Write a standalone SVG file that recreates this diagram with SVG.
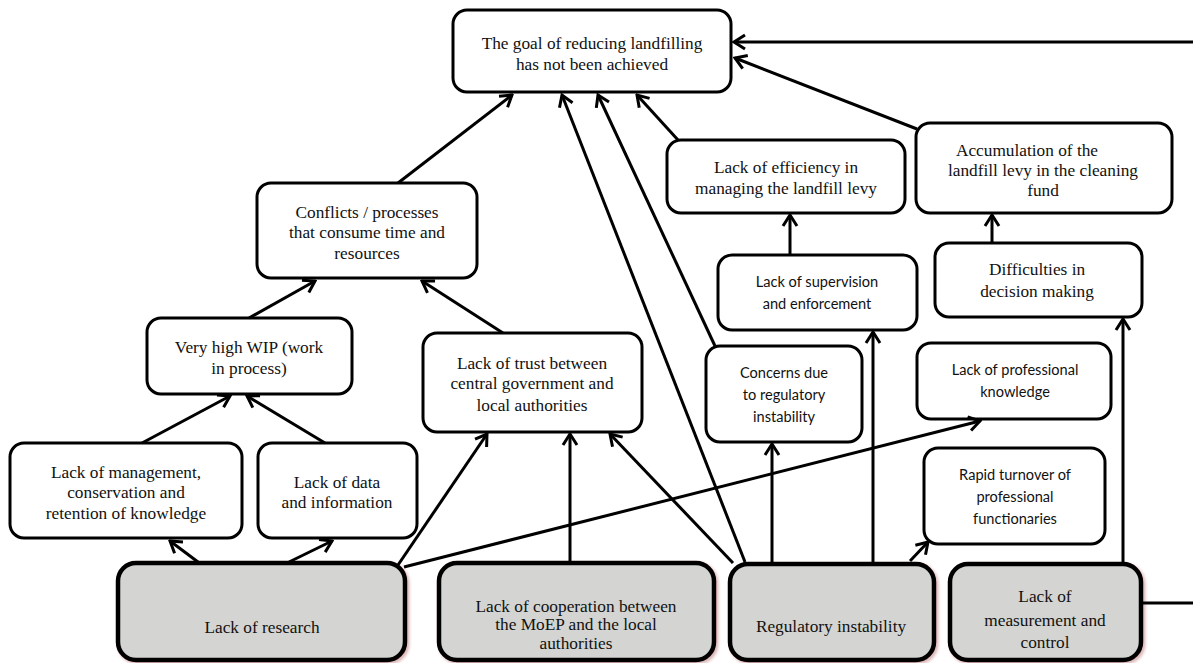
<svg xmlns="http://www.w3.org/2000/svg" width="1193" height="663" viewBox="0 0 1193 663">
<defs>
<style>
.box{fill:#fff;stroke:#000;stroke-width:3}
.gbox{fill:#d4d5d2;stroke:#000;stroke-width:4.5;filter:url(#sh)}
.serif{font-family:"Liberation Serif","Times New Roman",serif;font-size:17.3px;fill:#111;text-anchor:middle}
.sans{font-family:Lato,"Open Sans",sans-serif;font-size:14.6px;fill:#111;text-anchor:middle}
.c line,.c path{stroke:#000;stroke-width:3;fill:none;marker-end:url(#ah)}
.c .plain{marker-end:none}
</style>
<marker id="ah" markerUnits="userSpaceOnUse" viewBox="-14 -10 16 20" refX="0" refY="0" markerWidth="16" markerHeight="20" orient="auto">
<path d="M-11,-7 L0,0 L-11,7" fill="none" stroke="#000" stroke-width="3"/>
</marker>
<filter id="sh" x="-5%" y="-5%" width="115%" height="115%">
<feDropShadow dx="2" dy="2" stdDeviation="1.5" flood-color="#8b2a2a" flood-opacity="0.35"/>
</filter>
</defs>
<rect width="1193" height="663" fill="#fff"/>

<g id="n-goal"><rect class="box" x="453" y="10" width="278" height="82" rx="14"/>
<text class="serif" x="592" y="49">The goal of reducing landfilling</text>
<text class="serif" x="592" y="70">has not been achieved</text></g>

<g id="n-conflicts"><rect class="box" x="257" y="183" width="220" height="95" rx="14"/>
<text class="serif" x="367" y="218">Conflicts / processes</text>
<text class="serif" x="367" y="238">that consume time and</text>
<text class="serif" x="367" y="259">resources</text></g>

<g id="n-wip"><rect class="box" x="147" y="318" width="205" height="76" rx="14"/>
<text class="serif" x="249" y="353">Very high WIP (work</text>
<text class="serif" x="249" y="374">in process)</text></g>

<g id="n-mgmt"><rect class="box" x="10" y="443" width="232" height="95" rx="14"/>
<text class="serif" x="126" y="478">Lack of management,</text>
<text class="serif" x="126" y="498">conservation and</text>
<text class="serif" x="126" y="519">retention of knowledge</text></g>

<g id="n-data"><rect class="box" x="258" y="443" width="159" height="95" rx="14"/>
<text class="serif" x="337" y="488">Lack of data</text>
<text class="serif" x="337" y="508">and information</text></g>

<g id="n-trust"><rect class="box" x="423" y="333" width="219" height="99" rx="14"/>
<text class="serif" x="532" y="369">Lack of trust between</text>
<text class="serif" x="532" y="389">central government and</text>
<text class="serif" x="532" y="411">local authorities</text></g>

<g id="n-efficiency"><rect class="box" x="667" y="140" width="238" height="73" rx="14"/>
<text class="serif" x="786" y="173">Lack of efficiency in</text>
<text class="serif" x="786" y="194">managing the landfill levy</text></g>

<g id="n-accum"><rect class="box" x="916" y="123" width="256" height="90" rx="14"/>
<text class="serif" x="1027" y="156">Accumulation of the</text>
<text class="serif" x="1043" y="176">landfill levy in the cleaning</text>
<text class="serif" x="1043" y="196">fund</text></g>

<g id="n-supervision"><rect class="box" x="718" y="255" width="199" height="75" rx="14"/>
<text class="sans" x="817" y="287">Lack of supervision</text>
<text class="sans" x="817" y="309">and enforcement</text></g>

<g id="n-difficulties"><rect class="box" x="935" y="243" width="207" height="74" rx="14"/>
<text class="serif" x="1037" y="275">Difficulties in</text>
<text class="serif" x="1037" y="297">decision making</text></g>

<g id="n-concerns"><rect class="box" x="706" y="346" width="156" height="96" rx="14"/>
<text class="sans" x="784" y="378">Concerns due</text>
<text class="sans" x="784" y="400">to regulatory</text>
<text class="sans" x="784" y="422">instability</text></g>

<g id="n-profknow"><rect class="box" x="917" y="343" width="194" height="76" rx="14"/>
<text class="sans" x="1015" y="375">Lack of professional</text>
<text class="sans" x="1015" y="397">knowledge</text></g>

<g id="n-turnover"><rect class="box" x="924" y="448" width="181" height="96" rx="14"/>
<text class="sans" x="1015" y="480">Rapid turnover of</text>
<text class="sans" x="1015" y="502">professional</text>
<text class="sans" x="1015" y="524">functionaries</text></g>

<g id="n-research"><rect class="gbox" x="118" y="563" width="287" height="97" rx="18"/>
<text class="serif" x="262" y="633">Lack of research</text></g>

<g id="n-cooperation"><rect class="gbox" x="439" y="563" width="275" height="97" rx="18"/>
<text class="serif" x="576" y="612">Lack of cooperation between</text>
<text class="serif" x="576" y="630">the MoEP and the local</text>
<text class="serif" x="576" y="649">authorities</text></g>

<g id="n-regulatory"><rect class="gbox" x="730" y="564" width="204" height="96" rx="18"/>
<text class="serif" x="831" y="632">Regulatory instability</text></g>

<g id="n-measurement"><rect class="gbox" x="950" y="564" width="191" height="96" rx="18"/>
<text class="serif" x="1045" y="602">Lack of</text>
<text class="serif" x="1045" y="626">measurement and</text>
<text class="serif" x="1045" y="648">control</text></g>

<g id="connectors" class="c">
<line x1="398" y1="183" x2="512" y2="95"/>
<line x1="745" y1="562" x2="562" y2="95"/>
<line x1="715" y1="346" x2="598" y2="95"/>
<line x1="678" y1="140" x2="637" y2="95"/>
<line x1="1193" y1="42" x2="734" y2="42"/>
<line x1="917" y1="129" x2="735" y2="58"/>
<line x1="249" y1="318" x2="315" y2="281"/>
<line x1="503" y1="333" x2="422" y2="281"/>
<line x1="142" y1="443" x2="230" y2="396"/>
<line x1="325" y1="443" x2="247" y2="396"/>
<line x1="198" y1="562" x2="170" y2="541"/>
<line x1="289" y1="562" x2="332" y2="541"/>
<line x1="398" y1="565" x2="487" y2="434"/>
<line x1="570" y1="562" x2="570" y2="434"/>
<line x1="733" y1="563" x2="610" y2="434"/>
<line x1="404" y1="567" x2="980" y2="421"/>
<line x1="772" y1="563" x2="772" y2="444"/>
<line x1="873" y1="563" x2="873" y2="332"/>
<line x1="790" y1="255" x2="790" y2="215"/>
<line x1="910" y1="561" x2="928" y2="542"/>
<line x1="1123" y1="563" x2="1123" y2="319"/>
<line x1="992" y1="243" x2="992" y2="215"/>
<line class="plain" x1="1141" y1="603" x2="1193" y2="603"/>
</g>
</svg>
